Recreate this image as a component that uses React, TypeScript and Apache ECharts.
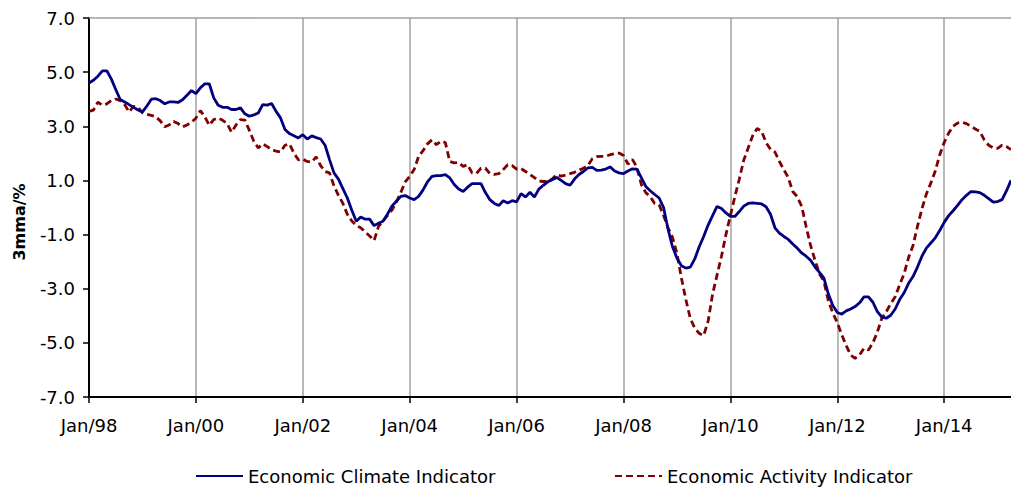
import React, { useEffect, useRef } from "react";
import * as echarts from "echarts";

const monthNames = ["Jan", "Feb", "Mar", "Apr", "May", "Jun", "Jul", "Aug", "Sep", "Oct", "Nov", "Dec"];
const startYear = 1998;
const monthCount = 208;
const categories: string[] = [];
for (let i = 0; i < monthCount; i++) {
  const y = startYear + Math.floor(i / 12);
  categories.push(monthNames[i % 12] + "/" + String(y % 100).padStart(2, "0"));
}

const yTicks = [-7, -5, -3, -1, 1, 3, 5, 7];

const climate = [
  4.60, 4.70, 4.85, 5.05, 5.05, 4.75, 4.36, 3.99, 3.90, 3.80, 3.70, 3.60,
  3.53, 3.75, 4.00, 4.02, 3.95, 3.83, 3.90, 3.90, 3.88, 3.98, 4.15, 4.32,
  4.21, 4.42, 4.57, 4.57, 4.05, 3.78, 3.70, 3.70, 3.62, 3.62, 3.68, 3.46,
  3.37, 3.42, 3.49, 3.80, 3.78, 3.84, 3.55, 3.31, 2.88, 2.73, 2.65, 2.57,
  2.69, 2.53, 2.65, 2.58, 2.53, 2.30, 1.77, 1.28, 1.05, 0.70, 0.35, -0.10,
  -0.51, -0.35, -0.43, -0.43, -0.67, -0.58, -0.51, -0.25, 0.05, 0.23, 0.41, 0.44,
  0.35, 0.29, 0.41, 0.65, 0.95, 1.15, 1.18, 1.18, 1.21, 1.09, 0.85, 0.68,
  0.59, 0.75, 0.88, 0.88, 0.88, 0.55, 0.29, 0.15, 0.07, 0.25, 0.17, 0.25,
  0.21, 0.51, 0.39, 0.56, 0.39, 0.68, 0.82, 0.95, 1.03, 1.11, 1.00, 0.88,
  0.82, 1.05, 1.22, 1.33, 1.46, 1.48, 1.37, 1.38, 1.42, 1.50, 1.35, 1.28,
  1.25, 1.35, 1.43, 1.42, 1.10, 0.78, 0.62, 0.48, 0.35, 0.00, -0.80, -1.45,
  -1.87, -2.15, -2.24, -2.20, -1.90, -1.45, -1.07, -0.65, -0.30, 0.04, -0.04, -0.20,
  -0.33, -0.33, -0.15, 0.05, 0.15, 0.17, 0.15, 0.13, 0.03, -0.25, -0.75, -0.95,
  -1.07, -1.18, -1.35, -1.50, -1.68, -1.80, -1.95, -2.20, -2.40, -2.61, -3.20, -3.62,
  -3.88, -3.94, -3.82, -3.75, -3.66, -3.52, -3.30, -3.30, -3.50, -3.85, -4.05, -4.09,
  -3.98, -3.75, -3.40, -3.15, -2.80, -2.55, -2.20, -1.80, -1.50, -1.31, -1.12, -0.85,
  -0.55, -0.30, -0.12, 0.08, 0.29, 0.45, 0.59, 0.58, 0.55, 0.45, 0.33, 0.20,
  0.22, 0.29, 0.62, 1.00,
];

const activity = [
  3.55, 3.60, 3.89, 3.78, 3.83, 3.95, 4.01, 3.95, 3.80, 3.53, 3.74, 3.70,
  3.50, 3.44, 3.40, 3.35, 3.20, 2.98, 3.05, 3.18, 3.10, 2.98, 3.05, 3.15,
  3.30, 3.58, 3.35, 3.04, 3.25, 3.30, 3.22, 3.10, 2.78, 3.05, 3.25, 3.23,
  2.85, 2.45, 2.20, 2.35, 2.25, 2.14, 2.08, 2.05, 2.30, 2.35, 2.01, 1.76,
  1.79, 1.70, 1.68, 1.87, 1.55, 1.33, 1.28, 0.80, 0.45, 0.15, -0.25, -0.50,
  -0.66, -0.75, -0.90, -1.05, -1.22, -0.70, -0.50, -0.30, -0.10, 0.20, 0.55, 0.95,
  1.15, 1.40, 1.89, 2.10, 2.35, 2.50, 2.32, 2.45, 2.40, 1.70, 1.65, 1.66,
  1.52, 1.58, 1.28, 1.26, 1.45, 1.45, 1.25, 1.22, 1.25, 1.40, 1.58, 1.55,
  1.42, 1.44, 1.33, 1.22, 1.10, 0.98, 0.96, 0.96, 1.05, 1.22, 1.16, 1.20,
  1.25, 1.30, 1.38, 1.45, 1.55, 1.80, 1.88, 1.89, 1.89, 1.95, 1.99, 2.01,
  1.92, 1.60, 1.77, 1.50, 0.85, 0.55, 0.40, 0.15, 0.10, -0.30, -0.75, -1.10,
  -1.70, -2.60, -3.40, -4.10, -4.45, -4.65, -4.73, -4.20, -3.20, -2.50, -1.80, -1.00,
  -0.30, 0.40, 1.05, 1.75, 2.20, 2.65, 2.92, 2.82, 2.40, 2.15, 2.05, 1.70,
  1.40, 1.10, 0.59, 0.40, 0.05, -0.70, -1.40, -1.95, -2.45, -2.73, -3.45, -3.90,
  -4.25, -4.70, -5.10, -5.45, -5.57, -5.45, -5.20, -5.26, -5.00, -4.60, -4.09, -3.85,
  -3.55, -3.30, -2.85, -2.45, -1.85, -1.40, -0.70, -0.05, 0.50, 0.90, 1.35, 1.95,
  2.40, 2.75, 3.00, 3.12, 3.15, 3.10, 3.00, 2.90, 2.81, 2.50, 2.30, 2.20,
  2.18, 2.30, 2.25, 2.14,
];

const FONT = "DejaVu Sans";

export default function App() {
  const ref = useRef<HTMLDivElement>(null);
  useEffect(() => {
    if (!ref.current) return;
    const chart = echarts.init(ref.current, undefined, { renderer: "svg" });
    const legendCommon = {
      top: 467,
      padding: 0,
      itemWidth: 47,
      itemHeight: 14,
      itemStyle: { opacity: 0 },
      textStyle: { fontFamily: FONT, fontSize: 18, color: "#000", padding: [0, 0, 0, 0] },
    };
    chart.setOption({
      animation: false,
      backgroundColor: "#ffffff",
      grid: { left: 89, right: 0, top: 18, bottom: 91, containLabel: false },
      legend: [
        { ...legendCommon, data: ["Economic Climate Indicator"], left: 195 },
        { ...legendCommon, data: ["Economic Activity Indicator"], left: 614 },
      ],
      xAxis: [
        {
          type: "category",
          data: categories,
          boundaryGap: false,
          axisLine: { onZero: false, lineStyle: { color: "#000", width: 2 } },
          axisTick: { interval: 23, length: 6, lineStyle: { color: "#000", width: 1.5 } },
          axisLabel: {
            interval: 23,
            margin: 19,
            fontFamily: FONT,
            fontSize: 18,
            color: "#000",
          },
          splitLine: { show: true, interval: 23, lineStyle: { color: "#a0a0a0", width: 1.5 } },
        },
        {
          type: "category",
          data: categories,
          boundaryGap: false,
          position: "top",
          axisLine: { onZero: false, lineStyle: { color: "#a0a0a0", width: 1.5 } },
          axisTick: { show: false },
          axisLabel: { show: false },
          splitLine: { show: false },
        },
      ],
      yAxis: {
        type: "value",
        min: yTicks[0],
        max: yTicks[yTicks.length - 1],
        interval: 2,
        axisLine: { show: true, lineStyle: { color: "#000", width: 2 } },
        axisTick: { show: true, length: 6, lineStyle: { color: "#000", width: 1.5 } },
        axisLabel: {
          margin: 14,
          fontFamily: FONT,
          fontSize: 18,
          color: "#000",
          formatter: (v: number) => v.toFixed(1),
        },
        splitLine: { show: false },
      },
      graphic: [
        {
          type: "text",
          x: 19,
          y: 222,
          rotation: Math.PI / 2,
          style: {
            text: "3mma/%",
            fontFamily: FONT,
            fontWeight: "bold",
            fontSize: 16,
            fill: "#000",
            textAlign: "center",
            textVerticalAlign: "middle",
          },
        },
      ],
      series: [
        {
          name: "Economic Climate Indicator",
          type: "line",
          data: climate,
          symbol: "none",
          lineStyle: { color: "#000080", width: 2.8 },
          itemStyle: { color: "#000080" },
          z: 3,
        },
        {
          name: "Economic Activity Indicator",
          type: "line",
          data: activity,
          symbol: "none",
          lineStyle: { color: "#800000", width: 2.8, type: [7, 4] },
          itemStyle: { color: "#800000" },
          z: 2,
        },
      ],
    });
    return () => chart.dispose();
  }, []);
  return <div ref={ref} style={{ width: 1011, height: 488, position: "absolute", left: 0, top: 0 }} />;
}
